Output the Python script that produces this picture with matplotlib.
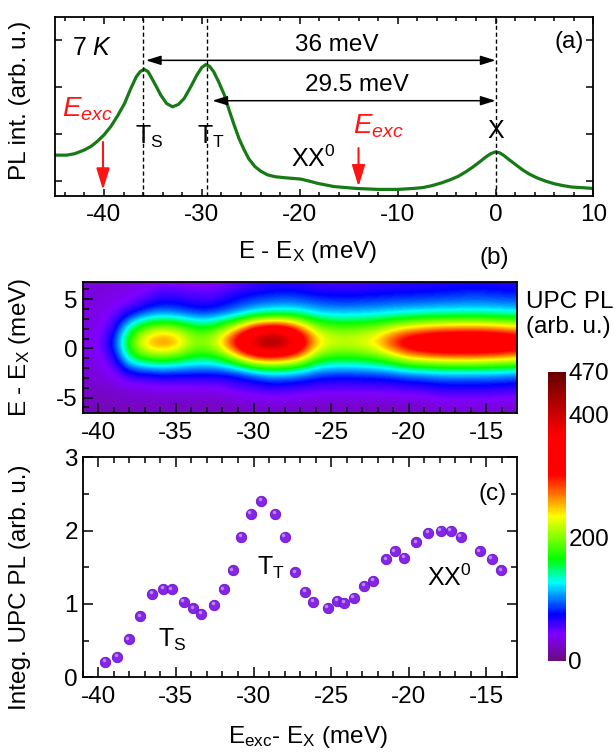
import numpy as np
import matplotlib
matplotlib.use("Agg")
import matplotlib.pyplot as plt
import matplotlib.transforms as mtransforms
from matplotlib.colors import LinearSegmentedColormap
from matplotlib.ticker import MultipleLocator

plt.rcParams['font.family'] = ['Liberation Sans', 'DejaVu Sans']
plt.rcParams['mathtext.fontset'] = 'custom'
plt.rcParams['mathtext.rm'] = 'Liberation Sans'
plt.rcParams['mathtext.it'] = 'Liberation Sans:italic'
plt.rcParams['axes.unicode_minus'] = False

FS = 17.5   # tick labels / axis labels
FT = 18     # annotations

#%% data
# (a) PL spectrum, E - E_X (meV) vs intensity (arb. u.)
pl_energy = [-45, -43.8, -43.0, -42.0, -41.3, -40.7, -40.0, -39.3, -38.6, -37.9,
             -37.3, -36.7, -36.3, -35.9, -35.5, -35.2, -34.7, -34.2, -33.6, -33.0,
             -32.4, -31.8, -31.1, -30.5, -30.0, -29.6, -29.2, -28.8, -28.3, -27.7,
             -27.2, -26.7, -26.2, -25.7, -25.2, -24.6, -24.0, -23.3, -22.5, -21.6,
             -19.9, -18.9, -18.2, -16.5, -14.2, -12.0, -10.0, -8.4, -7.4, -6.5,
             -5.5, -4.7, -3.8, -3.0, -2.3, -1.6, -1.0, -0.5, 0.0, 0.4,
             0.8, 1.4, 2.1, 2.8, 3.5, 4.3, 5.2, 6.0, 6.9, 7.8,
             8.6, 10.0]
pl_int = [0.55, 0.55, 0.58, 0.66, 0.74, 0.84, 0.98, 1.16, 1.39, 1.65,
          1.95, 2.22, 2.33, 2.38, 2.33, 2.22, 2.03, 1.83, 1.65, 1.58,
          1.63, 1.76, 2.02, 2.26, 2.42, 2.48, 2.44, 2.33, 2.12, 1.83,
          1.50, 1.19, 0.90, 0.67, 0.47, 0.31, 0.21, 0.13, 0.09, 0.07,
          0.04, -0.01, -0.05, -0.12, -0.16, -0.18, -0.18, -0.16, -0.14, -0.10,
          -0.04, 0.02, 0.10, 0.20, 0.30, 0.41, 0.51, 0.58, 0.62, 0.60,
          0.55, 0.45, 0.34, 0.23, 0.14, 0.06, -0.01, -0.06, -0.10, -0.13,
          -0.14, -0.16]

# (b) UPC PL map: columns = E_exc - E_X, rows = E - E_X
map_exc = list(range(-41, -12))
map_emis = [6.5, 5.0, 3.5, 2.0, 0.5, -1.0, -2.5, -4.0, -5.5, -7.0]
upc_map = [
    [32, 32, 33, 34, 36, 40, 40, 38, 37, 40, 48, 55, 60, 62, 60, 56, 55, 55, 56, 58, 60, 62, 62, 64, 66, 68, 66, 64, 62],
    [32, 33, 35, 40, 50, 68, 66, 60, 56, 66, 78, 85, 88, 92, 88, 82, 80, 78, 80, 82, 84, 85, 86, 88, 90, 92, 92, 90, 88],
    [32, 35, 45, 66, 92, 100, 96, 86, 82, 92, 102, 120, 130, 132, 132, 120, 114, 114, 116, 118, 122, 125, 128, 130, 130, 132, 130, 128, 125],
    [33, 38, 60, 148, 190, 215, 205, 178, 168, 198, 245, 315, 340, 335, 275, 212, 195, 192, 196, 205, 225, 242, 252, 262, 264, 266, 264, 256, 246],
    [35, 42, 84, 185, 265, 290, 275, 215, 215, 262, 355, 425, 470, 445, 360, 262, 232, 230, 238, 262, 315, 355, 375, 390, 394, 398, 394, 384, 362],
    [33, 38, 60, 152, 180, 188, 180, 160, 156, 172, 225, 285, 295, 285, 255, 188, 172, 170, 174, 184, 208, 242, 252, 262, 264, 264, 260, 254, 244],
    [30, 33, 42, 70, 75, 82, 80, 80, 80, 80, 84, 102, 120, 118, 110, 95, 90, 90, 92, 94, 98, 108, 110, 115, 115, 115, 114, 112, 108],
    [25, 27, 30, 35, 36, 40, 39, 40, 40, 42, 55, 55, 62, 60, 57, 54, 52, 52, 52, 54, 55, 58, 60, 68, 68, 68, 68, 66, 62],
    [22, 22, 22, 24, 24, 25, 25, 25, 25, 26, 28, 30, 32, 32, 30, 28, 28, 28, 28, 28, 28, 30, 30, 35, 35, 35, 35, 34, 33],
    [20, 20, 20, 20, 20, 20, 20, 20, 20, 20, 20, 22, 25, 24, 22, 22, 22, 22, 22, 22, 22, 22, 22, 25, 25, 25, 25, 25, 25],
]
cbar_ticks = [0, 200, 400, 470]

# (c) integrated UPC PL vs E_exc - E_X
exc_energy = [-39.57, -38.78, -38.03, -37.29, -36.52, -35.83, -35.26, -34.49, -33.87, -33.38,
              -32.52, -31.92, -31.35, -30.81, -30.17, -29.51, -28.59, -27.99, -27.33, -26.67,
              -26.15, -25.21, -24.62, -24.15, -23.55, -22.86, -22.31, -21.47, -20.90, -20.30,
              -19.53, -18.76, -17.95, -17.29, -16.65, -15.43, -14.66, -14.04]
upc_int = [0.21, 0.28, 0.52, 0.83, 1.14, 1.21, 1.20, 1.03, 0.94, 0.87,
           0.99, 1.20, 1.46, 1.92, 2.23, 2.41, 2.23, 1.92, 1.43, 1.17,
           1.03, 0.95, 1.04, 1.02, 1.08, 1.25, 1.32, 1.61, 1.72, 1.63,
           1.84, 1.97, 2.00, 2.00, 1.92, 1.72, 1.62, 1.46]

RED = '#ff1414'
GREEN = '#177a17'

# rainbow map close to the Origin one
upc_cmap = LinearSegmentedColormap.from_list('upc', [
    (0.00, (0.42, 0.05, 0.50)),
    (0.09, (0.50, 0.00, 1.00)),
    (0.16, (0.00, 0.00, 1.00)),
    (0.27, (0.00, 1.00, 1.00)),
    (0.35, (0.00, 1.00, 0.00)),
    (0.50, (1.00, 1.00, 0.00)),
    (0.57, (1.00, 0.50, 0.00)),
    (0.645, (1.00, 0.00, 0.00)),
    (0.78, (1.00, 0.00, 0.00)),
    (1.00, (0.40, 0.00, 0.00)),
])


def frame(ax, lw=1.3):
    for sp in ax.spines.values():
        sp.set_linewidth(lw)


#%% figure
fig = plt.figure(figsize=(6.14, 7.52), dpi=100)

# ---------- (a)
ax_a = fig.add_axes([0.0896, 0.7394, 0.877, 0.2384])
ax_a.plot(pl_energy, pl_int, color=GREEN, lw=2.3)
ax_a.set_xlim(-45, 10)
ax_a.set_ylim(-0.32, 3.5)
ax_a.xaxis.set_major_locator(MultipleLocator(10))
ax_a.xaxis.set_minor_locator(MultipleLocator(2))
ax_a.yaxis.set_major_locator(MultipleLocator(1))
ax_a.tick_params(which='both', direction='in', top=True, right=True, width=1.1)
ax_a.tick_params(which='major', length=5)
ax_a.tick_params(which='minor', length=3)
ax_a.tick_params(axis='y', labelleft=False)
ax_a.tick_params(axis='x', labelsize=FS, pad=6)
frame(ax_a)
ax_a.set_xlabel(r'E - E$_\mathrm{X}$ (meV)', fontsize=FS)
ax_a.xaxis.set_label_coords(0.47, -0.31)
ax_a.xaxis.label.set_va('center')
ax_a.set_ylabel('PL int. (arb. u.)', fontsize=FS)
ax_a.yaxis.set_label_coords(-0.065, 0.535)
ax_a.yaxis.label.set_va('center')

for xv in [-36, -29.5, 0]:
    ax_a.axvline(xv, color='k', lw=1.0, ls=(0, (3, 2)))

ax_a.annotate('', xy=(0, 2.57), xytext=(-36, 2.57),
              arrowprops=dict(arrowstyle='<|-|>,head_length=0.45,head_width=0.14',
                              color='k', lw=1.1, shrinkA=2, shrinkB=0, mutation_scale=20))
ax_a.annotate('', xy=(0, 1.71), xytext=(-29.5, 1.71),
              arrowprops=dict(arrowstyle='<|-|>,head_length=0.45,head_width=0.14',
                              color='k', lw=1.1, shrinkA=4, shrinkB=0, mutation_scale=20))
ax_a.text(-16.2, 2.89, '36 meV', ha='center', va='center', fontsize=FS)
ax_a.text(-14.2, 2.04, '29.5 meV', ha='center', va='center', fontsize=FS)
ax_a.text(-41.2, 2.84, r'7 $K$', ha='center', va='center', fontsize=FT)
ax_a.text(7.5, 2.96, '(a)', ha='center', va='center', fontsize=FS)

for xe, y0, y1, tx, ty in [(-40.1, 0.83, -0.19, -44.3, 1.37), (-14.0, 0.70, -0.12, -14.6, 1.01)]:
    ax_a.annotate('', xy=(xe, y1), xytext=(xe, y0),
                  arrowprops=dict(arrowstyle='-|>,head_length=0.65,head_width=0.2',
                                  color=RED, lw=1.5, shrinkA=0, shrinkB=0, mutation_scale=20))
    ax_a.text(tx, ty, r'$E_{exc}$', color=RED, ha='left', va='baseline', fontsize=20)

ax_a.text(-36.8, 0.80, r'T$_\mathrm{S}$', ha='left', va='baseline', fontsize=FT)
ax_a.text(-30.5, 0.80, r'T$_\mathrm{T}$', ha='left', va='baseline', fontsize=FT)
ax_a.text(-20.9, 0.30, r'XX$^\mathrm{0}$', ha='left', va='baseline', fontsize=FT)
ax_a.text(0, 0.91, 'X', ha='center', va='baseline', fontsize=FT)

fig.text(0.805, 0.657, '(b)', ha='center', va='center', fontsize=FS)

# ---------- (b)
ax_b = fig.add_axes([0.1347, 0.4504, 0.7068, 0.1746])
dx = map_exc[1] - map_exc[0]
dy = map_emis[0] - map_emis[1]
im = ax_b.imshow(np.array(upc_map, dtype=float), cmap=upc_cmap, vmin=0, vmax=470,
                 origin='upper', aspect='auto', interpolation='bicubic',
                 interpolation_stage='data',
                 extent=(map_exc[0] - dx / 2, map_exc[-1] + dx / 2,
                         map_emis[-1] - dy / 2, map_emis[0] + dy / 2))
ax_b.set_xlim(-41, -13.05)
ax_b.set_ylim(-6.6, 6.75)
ax_b.xaxis.set_major_locator(MultipleLocator(5))
ax_b.xaxis.set_minor_locator(MultipleLocator(1))
ax_b.yaxis.set_major_locator(MultipleLocator(5))
ax_b.yaxis.set_minor_locator(MultipleLocator(1))
ax_b.tick_params(which='both', direction='in', width=1.1, labelsize=FS)
ax_b.tick_params(which='major', length=7)
ax_b.tick_params(which='minor', length=4.5)
ax_b.tick_params(axis='x', pad=6)
frame(ax_b)
ax_b.set_ylabel(r'E - E$_\mathrm{X}$ (meV)', fontsize=FS)
ax_b.yaxis.set_label_coords(-0.144, 0.505)
ax_b.yaxis.label.set_va('center')

# colorbar
cax = fig.add_axes([0.893, 0.1214, 0.0283, 0.3843])
cb = fig.colorbar(im, cax=cax, ticks=cbar_ticks)
cb.outline.set_visible(False)
cax.tick_params(length=0, pad=2, labelsize=FS)
fig.text(0.856, 0.598, 'UPC PL', ha='left', va='center', fontsize=FS)
fig.text(0.856, 0.565, '(arb. u.)', ha='left', va='center', fontsize=FS)

# ---------- (c)
ax_c = fig.add_axes([0.1347, 0.0993, 0.7068, 0.2926])
ax_c.plot(exc_energy, upc_int, 'o', ms=7.5, color='#8526e6', mec='#6a12c8', mew=0.6)
hl = mtransforms.offset_copy(ax_c.transData, fig=fig, x=-1.0, y=1.2, units='points')
ax_c.plot(exc_energy, upc_int, 'o', ms=2.5, color='#c9a2ff', mew=0, alpha=0.8, transform=hl)
ax_c.set_xlim(-41, -13.05)
ax_c.set_ylim(0, 3)
ax_c.xaxis.set_major_locator(MultipleLocator(5))
ax_c.xaxis.set_minor_locator(MultipleLocator(1))
ax_c.yaxis.set_major_locator(MultipleLocator(1))
ax_c.yaxis.set_minor_locator(MultipleLocator(0.5))
ax_c.tick_params(which='both', direction='in', top=True, right=True, width=1.1, labelsize=FS)
ax_c.tick_params(which='major', length=7)
ax_c.tick_params(which='minor', length=4.5)
ax_c.tick_params(axis='x', pad=6)
frame(ax_c)
ax_c.set_xlabel(r'E$_\mathrm{exc}$- E$_\mathrm{X}$ (meV)', fontsize=FS)
ax_c.xaxis.set_label_coords(0.52, -0.27)
ax_c.xaxis.label.set_va('center')
ax_c.set_ylabel('Integ. UPC PL (arb. u.)', fontsize=FS)
ax_c.yaxis.set_label_coords(-0.144, 0.41)
ax_c.yaxis.label.set_va('center')

ax_c.text(-36.14, 0.41, r'T$_\mathrm{S}$', ha='left', va='baseline', fontsize=FT)
ax_c.text(-29.8, 1.40, r'T$_\mathrm{T}$', ha='left', va='baseline', fontsize=FT)
ax_c.text(-18.8, 1.24, r'XX$^\mathrm{0}$', ha='left', va='baseline', fontsize=FT)
ax_c.text(-14.6, 2.5, '(c)', ha='center', va='center', fontsize=FS)

fig.savefig('out.png', dpi=100)
